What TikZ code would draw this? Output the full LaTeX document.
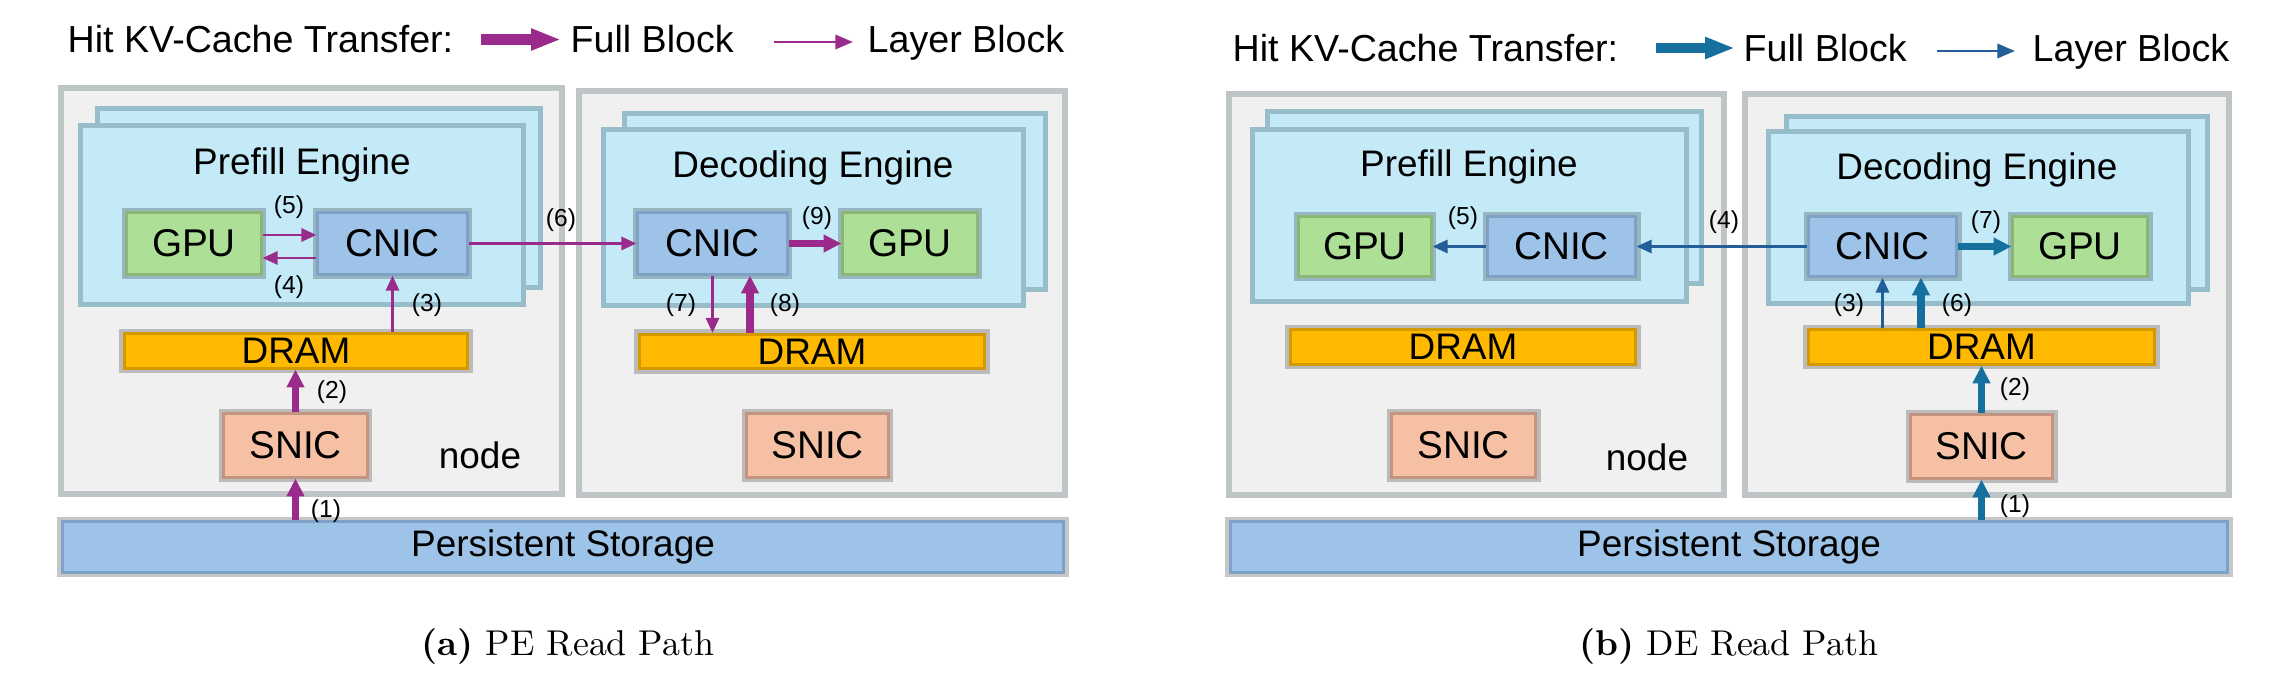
\documentclass[tikz,border=0pt]{standalone}
\usepackage{fontspec}
\setsansfont{Liberation Sans}
\usetikzlibrary{arrows.meta,calc}
\definecolor{hostfill}{HTML}{F0F0F0}
\definecolor{hostline}{HTML}{BFC4C7}
\definecolor{engfill}{HTML}{C4EAF8}
\definecolor{engline}{HTML}{97BCCA}
\definecolor{gpufill}{HTML}{ADDF97}
\definecolor{gpuline}{HTML}{8AB775}
\definecolor{cnicfill}{HTML}{9EC3E8}
\definecolor{cnicline}{HTML}{7FA2C4}
\definecolor{dramfill}{HTML}{FFB900}
\definecolor{dramline}{HTML}{D29A00}
\definecolor{snicfill}{HTML}{F5C0A4}
\definecolor{snicline}{HTML}{C39581}
\definecolor{storfill}{HTML}{9EC3E8}
\definecolor{storline}{HTML}{7EA1C7}
\definecolor{pecol}{HTML}{9A2A8B}
\definecolor{defull}{HTML}{16709D}
\definecolor{delayer}{HTML}{245E98}

\begin{document}
\begin{tikzpicture}[x=0.01cm,y=-0.01cm,font=\sffamily,
  host/.style={draw=hostline,line width=1.7pt,fill=hostfill,inner sep=0pt},
  card/.style={draw=engline,line width=1.4pt,fill=engfill,inner sep=0pt},
  unit/.style={draw=#1line,line width=0.85pt,fill=#1fill,inner sep=0pt,
    preaction={draw=black,draw opacity=0.22,line width=3.1pt},
    font=\sffamily\fontsize{11}{13}\selectfont},
  big/.style={font=\sffamily\fontsize{10.5}{12}\selectfont,inner sep=0pt},
  legtxt/.style={font=\sffamily\fontsize{10.7}{12}\selectfont,inner sep=0pt,anchor=base west},
  num/.style={font=\sffamily\fontsize{7}{8}\selectfont,inner sep=0pt},
  capt/.style={font=\rmfamily\fontsize{10.2}{12}\selectfont,inner sep=0pt,anchor=base},
  full/.style={line width=2pt,-{Triangle[length=5.1pt,width=4.8pt]}},
  layer/.style={line width=0.85pt,-{Triangle[length=4.3pt,width=3.7pt]}},
  legfull/.style={line width=2.85pt,-{Triangle[length=8.5pt,width=5.7pt]}},
  leglayer/.style={line width=0.85pt,-{Triangle[length=5pt,width=4pt]}}]
\useasboundingbox (0,0) rectangle (2274,688);

% (a) PE read path
\node[legtxt] (alegend) at (67,53) {Hit KV-Cache Transfer:};
\coordinate (afullA) at (481,39.5); \coordinate (afullB) at (561,39.5);
\draw[legfull,pecol] (afullA) -- (afullB);
\node[legtxt] (afull) at (570,53) {Full Block};
\coordinate (alayA) at (774,42); \coordinate (alayB) at (853,42);
\draw[leglayer,pecol] (alayA) -- (alayB);
\node[legtxt] (alayer) at (867,53) {Layer Block};

\node[host,minimum width=5.01cm,minimum height=4.06cm] (aphost) at (311.5,291) {};
\node[host,minimum width=4.86cm,minimum height=4.04cm] (adhost) at (822,293) {};
\node[card,minimum width=4.42cm,minimum height=1.78cm] (apback) at (319,198) {};
\node[card,minimum width=4.42cm,minimum height=1.78cm] (apfront) at (302,215) {};
\node[card,minimum width=4.2cm,minimum height=1.75cm] (adback) at (835,201.5) {};
\node[card,minimum width=4.2cm,minimum height=1.75cm] (adfront) at (813.5,217.5) {};
\node[big] (apeng) at (302,165) {Prefill Engine};
\node[big] (adeng) at (813,168) {Decoding Engine};
\node[big] (apnode) at (480,455) {node};

\node[unit=gpu,minimum width=1.34cm,minimum height=0.61cm] (apgpu) at (194,243.5) {GPU};
\node[unit=cnic,minimum width=1.49cm,minimum height=0.61cm] (apcnic) at (392.5,243.5) {CNIC};
\node[unit=dram,minimum width=3.42cm,minimum height=0.34cm,font=\sffamily\fontsize{10.5}{12}\selectfont] (apdram) at (296,351) {DRAM};
\node[unit=snic,minimum width=1.43cm,minimum height=0.63cm] (apsnic) at (295.5,445.5) {SNIC};
\node[unit=cnic,minimum width=1.49cm,minimum height=0.61cm] (adcnic) at (712.5,243.5) {CNIC};
\node[unit=gpu,minimum width=1.34cm,minimum height=0.61cm] (adgpu) at (910,243.5) {GPU};
\node[unit=dram,minimum width=3.44cm,minimum height=0.34cm,font=\sffamily\fontsize{10.5}{12}\selectfont] (addram) at (812,351.5) {DRAM};
\node[unit=snic,minimum width=1.41cm,minimum height=0.63cm] (adsnic) at (817.5,445.5) {SNIC};
\node[unit=stor,minimum width=10cm,minimum height=0.5cm,font=\sffamily\fontsize{10.5}{12}\selectfont] (astor) at (563,547) {Persistent Storage};

\draw[full,pecol] (apsnic.south |- astor.north) -- (apsnic.south);
\draw[full,pecol] (apsnic.north) -- (apsnic.north |- apdram.south);
\draw[layer,pecol] (apcnic.south |- apdram.north) -- (apcnic.south);
\draw[layer,pecol] ($(apcnic.west)+(0,14.5)$) -- ($(apgpu.east)+(0,14.5)$);
\draw[layer,pecol] ($(apgpu.east)+(0,-8.5)$) -- ($(apcnic.west)+(0,-8.5)$);
\draw[layer,pecol] (apcnic.east) -- (adcnic.west);
\draw[layer,pecol] (adcnic.south) -- (adcnic.south |- addram.north);
\draw[full,pecol] ($(addram.north)+(-62,0)$) -- ($(adcnic.south)+(37.5,0)$);
\draw[full,pecol] (adcnic.east) -- (adgpu.west);
\foreach \n/\x/\y in {1/326/511,2/332/392,3/427/305,4/289/287,5/289/207,
  6/561/220,7/681/305,8/785/305,9/817/218}
  \node[num] (anum\n) at (\x,\y) {(\n)};
\node[capt] (acapt) at (568,656) {\textbf{(a)} PE Read Path};

% (b) DE read path
\node[legtxt] (blegend) at (1232,62) {Hit KV-Cache Transfer:};
\coordinate (bfullA) at (1656,48); \coordinate (bfullB) at (1735,48);
\draw[legfull,defull] (bfullA) -- (bfullB);
\node[legtxt] (bfull) at (1743,62) {Full Block};
\coordinate (blayA) at (1937,51); \coordinate (blayB) at (2015,51);
\draw[leglayer,delayer] (blayA) -- (blayB);
\node[legtxt] (blayer) at (2032,62) {Layer Block};

\node[host,minimum width=4.95cm,minimum height=4.01cm] (bphost) at (1476.5,294.5) {};
\node[host,minimum width=4.84cm,minimum height=4.01cm] (bdhost) at (1987,294.5) {};
\node[card,minimum width=4.33cm,minimum height=1.72cm] (bpback) at (1484.5,197.5) {};
\node[card,minimum width=4.33cm,minimum height=1.72cm] (bpfront) at (1469.5,215.5) {};
\node[card,minimum width=4.2cm,minimum height=1.72cm] (bdback) at (1997,203) {};
\node[card,minimum width=4.2cm,minimum height=1.72cm] (bdfront) at (1978.5,217.5) {};
\node[big] (bpeng) at (1469,167) {Prefill Engine};
\node[big] (bdeng) at (1977,170) {Decoding Engine};
\node[big] (bpnode) at (1647,457) {node};

\node[unit=gpu,minimum width=1.32cm,minimum height=0.59cm] (bpgpu) at (1365,246.5) {GPU};
\node[unit=cnic,minimum width=1.47cm,minimum height=0.59cm] (bpcnic) at (1561.5,246.5) {CNIC};
\node[unit=dram,minimum width=3.44cm,minimum height=0.34cm,font=\sffamily\fontsize{10.5}{12}\selectfont] (bpdram) at (1463,347) {DRAM};
\node[unit=snic,minimum width=1.43cm,minimum height=0.63cm] (bpsnic) at (1463.5,445.5) {SNIC};
\node[unit=cnic,minimum width=1.47cm,minimum height=0.59cm] (bdcnic) at (1882.5,246.5) {CNIC};
\node[unit=gpu,minimum width=1.34cm,minimum height=0.59cm] (bdgpu) at (2080,246.5) {GPU};
\node[unit=dram,minimum width=3.45cm,minimum height=0.34cm,font=\sffamily\fontsize{10.5}{12}\selectfont] (bddram) at (1981.5,347) {DRAM};
\node[unit=snic,minimum width=1.41cm,minimum height=0.63cm] (bdsnic) at (1981.5,446.5) {SNIC};
\node[unit=stor,minimum width=9.96cm,minimum height=0.5cm,font=\sffamily\fontsize{10.5}{12}\selectfont] (bstor) at (1729,547) {Persistent Storage};

\draw[full,defull] (bdsnic.south |- bstor.north) -- (bdsnic.south);
\draw[full,defull] (bdsnic.north) -- (bdsnic.north |- bddram.south);
\draw[layer,delayer] (bdcnic.south |- bddram.north) -- (bdcnic.south);
\draw[layer,delayer] (bdcnic.west) -- (bpcnic.east);
\draw[layer,delayer] (bpcnic.west) -- (bpgpu.east);
\draw[full,defull] ($(bddram.north)+(-60.5,0)$) -- ($(bdcnic.south)+(38.5,0)$);
\draw[full,defull] (bdcnic.east) -- (bdgpu.west);
\foreach \n/\x/\y in {1/2015/506,2/2015/389,3/1849/305,4/1724/222,5/1463/218,
  6/1957/305,7/1986/222}
  \node[num] (bnum\n) at (\x,\y) {(\n)};
\node[capt] (bcapt) at (1729,656) {\textbf{(b)} DE Read Path};
\end{tikzpicture}
\end{document}
